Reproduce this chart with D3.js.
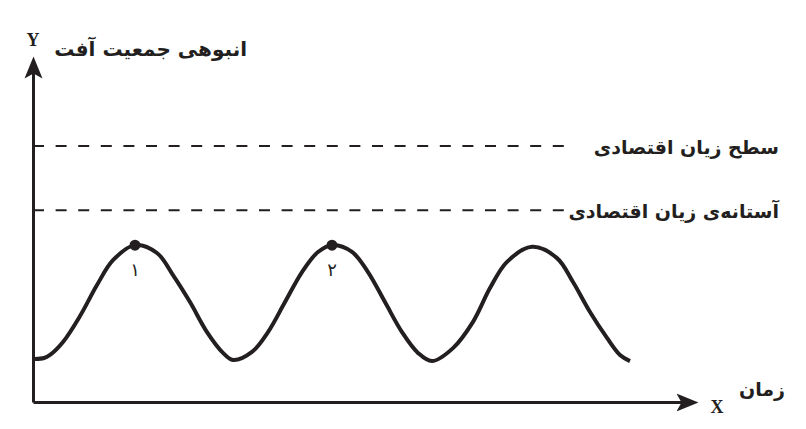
<!DOCTYPE html>
<html>
<head>
<meta charset="utf-8">
<script src="https://cdn.jsdelivr.net/npm/d3@7"></script>
<style>
  body { margin: 0; background: #fff; }
  svg { display: block; }
</style>
</head>
<body>
<svg id="chart"></svg>
<script>
// pest population, time vs density
const waveTime = [0.2, 1.1, 1.7, 3.0, 4.7, 6.4, 8.0, 10.2, 12.4, 14.0, 15.7, 17.4, 19.0,
  20.0, 21.9, 23.5, 25.2, 26.9, 28.5, 29.9, 31.9, 33.5, 35.2, 36.9, 38.5,
  39.9, 42.0, 44.0, 45.7, 47.4, 49.9, 52.4, 54.0, 55.7, 57.4, 58.7, 59.7];
const waveLevel = [12.6, 12.9, 13.8, 17.6, 25.2, 34.3, 41.6, 46.0, 43.7, 37.2, 29.3, 20.5, 14.4,
  12.3, 14.7, 20.5, 29.3, 38.1, 44.0, 46.0, 44.0, 38.1, 29.3, 20.5, 14.4,
  12.0, 15.8, 23.5, 33.4, 41.1, 45.5, 42.2, 35.2, 26.4, 18.8, 13.8, 12.0];
// marked peaks
const peakIndex = [7, 19];
const peakLabels = ["۱", "۲"];
// horizontal reference levels
const levelNames = ["سطح زیان اقتصادی", "آستانه‌ی زیان اقتصادی"];
const levelValues = [75.1, 56.2];
const levelEnd = [53.5, 53.9];

const w = 806, h = 429;
const svg = d3.select("#chart").attr("width", w).attr("height", h);

const x = d3.scaleLinear().domain([0, 66]).range([33, 693]);
const y = d3.scaleLinear().domain([0, 100]).range([402, 61]);

const ink = "#231f20";
const arabicFont = "'DejaVu Sans', 'Noto Sans', sans-serif";

svg.append("defs").append("marker")
  .attr("id", "arrow")
  .attr("markerUnits", "userSpaceOnUse")
  .attr("viewBox", "0 -10 24 20")
  .attr("refX", 17)
  .attr("refY", 0)
  .attr("markerWidth", 24)
  .attr("markerHeight", 20)
  .attr("orient", "auto")
  .append("path")
  .attr("d", "M0,-9L22,0L0,9L5,0Z")
  .attr("fill", ink);

// dashed levels
svg.selectAll("line.level")
  .data(levelValues)
  .enter()
  .append("line")
  .attr("class", "level")
  .attr("x1", x(0))
  .attr("x2", (d, i) => x(levelEnd[i]))
  .attr("y1", d => y(d))
  .attr("y2", d => y(d))
  .attr("stroke", ink)
  .attr("stroke-width", 2)
  .attr("stroke-dasharray", "11,11.6");

svg.selectAll("text.level")
  .data(levelValues)
  .enter()
  .append("text")
  .attr("class", "level")
  .attr("x", 779)
  .attr("y", d => y(d) + 8)
  .attr("text-anchor", "end")
  .attr("font-family", arabicFont)
  .attr("font-weight", "bold")
  .attr("font-size", 19)
  .attr("fill", ink)
  .text((d, i) => levelNames[i]);

// axes
const yAxis = svg.append("g")
  .attr("transform", `translate(${x(0)},0)`)
  .call(d3.axisLeft(y).tickValues([]).tickSizeOuter(0));
const xAxis = svg.append("g")
  .attr("transform", `translate(0,${y(0)})`)
  .call(d3.axisBottom(x).tickValues([]).tickSizeOuter(0));
[yAxis, xAxis].forEach(g => g.select(".domain")
  .attr("stroke", ink)
  .attr("stroke-width", 3)
  .attr("marker-end", "url(#arrow)"));

// wave
const pts = waveTime.map((t, i) => [t, waveLevel[i]]);
const line = d3.line()
  .x(d => x(d[0]))
  .y(d => y(d[1]))
  .curve(d3.curveCatmullRom.alpha(0.5));

svg.append("path")
  .datum(pts)
  .attr("d", line)
  .attr("fill", "none")
  .attr("stroke", ink)
  .attr("stroke-width", 4);

svg.selectAll("circle.peak")
  .data(peakIndex)
  .enter()
  .append("circle")
  .attr("class", "peak")
  .attr("cx", d => x(waveTime[d]))
  .attr("cy", d => y(waveLevel[d]))
  .attr("r", 5.5)
  .attr("fill", ink);

svg.selectAll("text.peak")
  .data(peakIndex)
  .enter()
  .append("text")
  .attr("class", "peak")
  .attr("x", d => x(waveTime[d]))
  .attr("y", d => y(waveLevel[d]) + 31)
  .attr("text-anchor", "middle")
  .attr("font-family", arabicFont)
  .attr("font-size", 18)
  .attr("fill", ink)
  .text((d, i) => peakLabels[i]);

// axis titles
svg.append("text")
  .attr("x", x(0))
  .attr("y", 46)
  .attr("text-anchor", "middle")
  .attr("font-family", "'Liberation Serif', serif")
  .attr("font-weight", "bold")
  .attr("font-size", 18)
  .attr("fill", ink)
  .text("Y");

svg.append("text")
  .attr("x", 247)
  .attr("y", 56)
  .attr("text-anchor", "end")
  .attr("font-family", arabicFont)
  .attr("font-weight", "bold")
  .attr("font-size", 20)
  .attr("fill", ink)
  .text("انبوهی جمعیت آفت");

svg.append("text")
  .attr("x", 717)
  .attr("y", 413)
  .attr("text-anchor", "middle")
  .attr("font-family", "'Liberation Serif', serif")
  .attr("font-weight", "bold")
  .attr("font-size", 18)
  .attr("fill", ink)
  .text("X");

svg.append("text")
  .attr("x", 785)
  .attr("y", 396)
  .attr("text-anchor", "end")
  .attr("font-family", arabicFont)
  .attr("font-weight", "bold")
  .attr("font-size", 19)
  .attr("fill", ink)
  .text("زمان");
</script>
</body>
</html>
